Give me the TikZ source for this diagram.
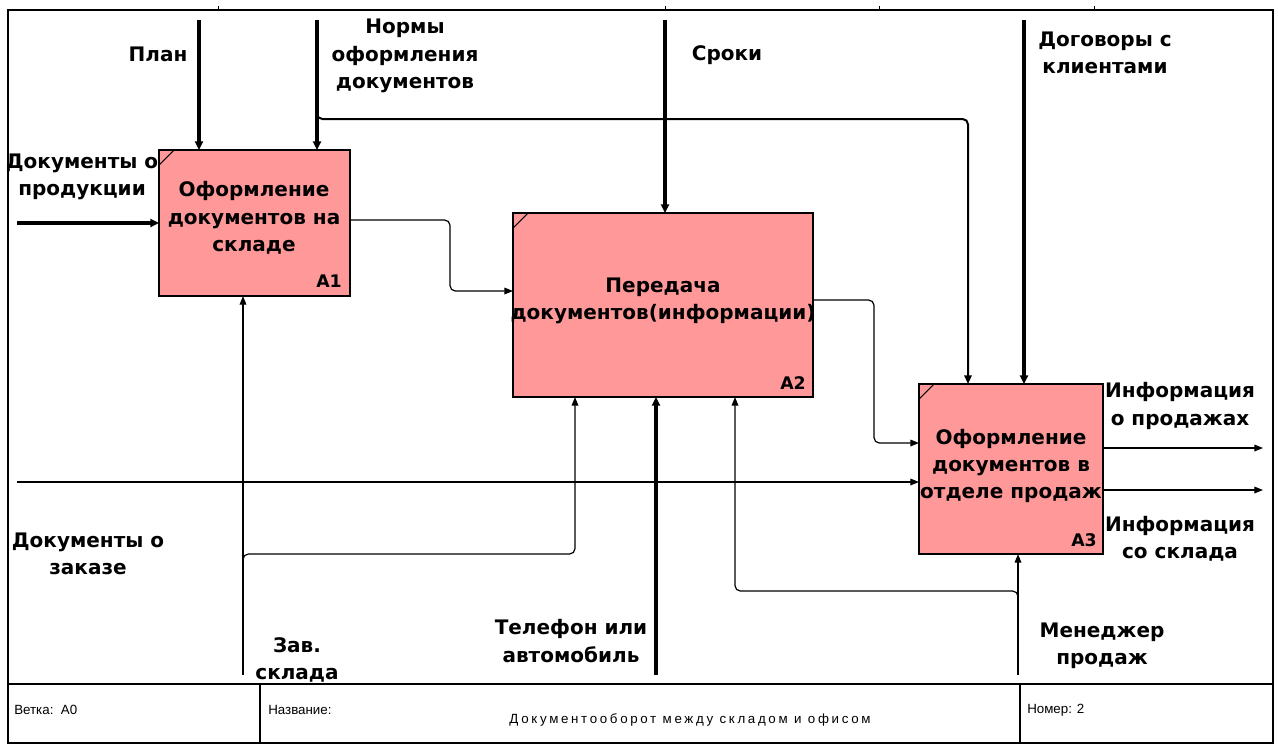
\documentclass[tikz,border=0pt]{standalone}
\usepackage{fontspec}
\setmainfont{DejaVu Sans}
\newfontfamily\footfont{Liberation Sans}
\newfontfamily\titlefont{Liberation Sans}[LetterSpace=20]
\usetikzlibrary{arrows.meta,calc}
\definecolor{procfill}{RGB}{255,153,153}
\tikzset{
  proc/.style={draw=black, line width=1.1pt, fill=procfill, inner sep=0pt, outer sep=0pt},
  corner/.style={line width=0.8pt},
  lbl/.style={font=\fontsize{15}{20.5}\selectfont\bfseries, align=center, inner sep=0pt},
  num/.style={font=\fontsize{13}{14}\selectfont\bfseries, anchor=south east, inner sep=0pt},
  thinflow/.style={line width=0.9pt, -{Triangle[length=6.5pt,width=5pt]}, rounded corners=4pt},
  midflow/.style={line width=1.5pt, -{Triangle[length=6.5pt,width=5.5pt]}, rounded corners=4pt},
  thickflow/.style={line width=2.3pt, -{Triangle[length=6.5pt,width=6pt]}, rounded corners=4pt},
  frame/.style={line width=1.1pt},
  foot/.style={font=\footfont\fontsize{10}{12}\selectfont, anchor=west, inner sep=0pt},
  foottitle/.style={font=\titlefont\fontsize{10}{12}\selectfont, inner sep=0pt},
}
\begin{document}
\begin{tikzpicture}[x=0.75pt,y=-0.75pt]
\useasboundingbox (0,0) rectangle (1278,744);

% page frame and title block
\draw[frame] (8,743) -- (8,10) -- (1273,10) -- (1273,743) -- cycle;
\draw[frame] (8,684) -- (1273,684);
\draw[frame] (260,684) -- (260,743);
\draw[frame] (1020,684) -- (1020,743);
\foreach \x in {218,665,879,1094} \draw[line width=0.6pt] (\x,6) -- (\x,10);

\node[foot] (vetka) at (14,710) {Ветка:\ \ A0};
\node[foot] (nazv) at (268,710) {Название:};
\node[foot] (nomer) at (1027,710) {Номер: 2};
\node[foottitle] (title) at (690,720) {Документооборот между складом и офисом};

% activity boxes
\node[proc, minimum width=143.25pt, minimum height=109.5pt] (a1) at (254.5,223) {};
\node[proc, minimum width=225pt, minimum height=138pt] (a2) at (663,305) {};
\node[proc, minimum width=138pt, minimum height=127.5pt] (a3) at (1011,469) {};

\foreach \b in {a1,a2,a3}
  \draw[corner] ($(\b.north west)+(0,15)$) -- ($(\b.north west)+(15,0)$);

\node[lbl] (a1t) at (254,218) {Оформление\\документов на\\складе};
\node[lbl] (a2t) at (663,301) {Передача\\документов(информации)};
\node[lbl] (a3t) at (1011,466) {Оформление\\документов в\\отделе продаж};

\node[num] (a1n) at ($(a1.south east)+(-8,-8)$) {A1};
\node[num] (a2n) at ($(a2.south east)+(-7,-7)$) {A2};
\node[num] (a3n) at ($(a3.south east)+(-6,-7)$) {A3};

% controls from above
\coordinate (planS) at (199,20);
\draw[thickflow] (planS) -- (planS |- a1.north);
\coordinate (normS) at (317,20);
\draw[thickflow] (normS) -- (normS |- a1.north);
\coordinate (normB) at (317,112);
\coordinate (normC) at (968,119);
\draw[midflow] (normB) |- (normC) -- (normC |- a3.north);
\coordinate (srokS) at (665,20);
\draw[thickflow] (srokS) -- (srokS |- a2.north);
\coordinate (dogS) at (1024,20);
\draw[thickflow] (dogS) -- (dogS |- a3.north);

% inputs from the left
\coordinate (prodS) at (17,223);
\draw[thickflow] (prodS) -- (a1.west);
\coordinate (zakS) at (17,482);
\draw[thinflow] (zakS) -- (zakS -| a3.west);

% flows between activities
\coordinate (j12) at (450,0);
\coordinate (a2in) at ([yshift=10.5pt]a2.west);
\draw[thinflow] ([yshift=2.25pt]a1.east) -| (j12 |- a2in) -- (a2in);
\coordinate (j23) at (874,0);
\coordinate (a3in) at ([yshift=19.5pt]a3.west);
\draw[thinflow] ([yshift=3.75pt]a2.east) -| (j23 |- a3in) -- (a3in);

% outputs
\coordinate (out1) at (1263,448);
\coordinate (out2) at (1263,490);
\draw[thinflow] (a3.east |- out1) -- (out1);
\draw[thinflow] (a3.east |- out2) -- (out2);

% mechanisms from below
\coordinate (zavS) at (243,675);
\draw[thinflow] (zavS) -- (zavS |- a1.south);
\coordinate (zavB) at (243,562);
\coordinate (zavC) at (575,554);
\draw[thinflow] (zavB) |- (zavC) -- (zavC |- a2.south);
\coordinate (telS) at (656,675);
\draw[thickflow] (telS) -- (telS |- a2.south);
\coordinate (manS) at (1018,675);
\draw[thinflow] (manS) -- (manS |- a3.south);
\coordinate (manB) at (1018,598);
\coordinate (manC) at (735,591);
\draw[thinflow] (manB) |- (manC) -- (manC |- a2.south);

% arrow labels
\node[lbl] (lplan) at (158,54) {План};
\node[lbl] (lnorm) at (405,56) {Нормы\\оформления\\документов};
\node[lbl] (lsrok) at (727,55) {Сроки};
\node[lbl] (ldog) at (1105,53) {Договоры с\\клиентами};
\node[lbl] (lprod) at (82,177) {Документы о\\продукции};
\node[lbl] (lzak) at (88,554) {Документы о\\заказе};
\node[lbl] (lzav) at (297,660) {Зав.\\склада};
\node[lbl] (ltel) at (571,641) {Телефон или\\автомобиль};
\node[lbl] (lman) at (1102,646) {Менеджер\\продаж};
\node[lbl] (lout1) at (1180,406) {Информация\\о продажах};
\node[lbl] (lout2) at (1180,539) {Информация\\со склада};
\end{tikzpicture}
\end{document}
